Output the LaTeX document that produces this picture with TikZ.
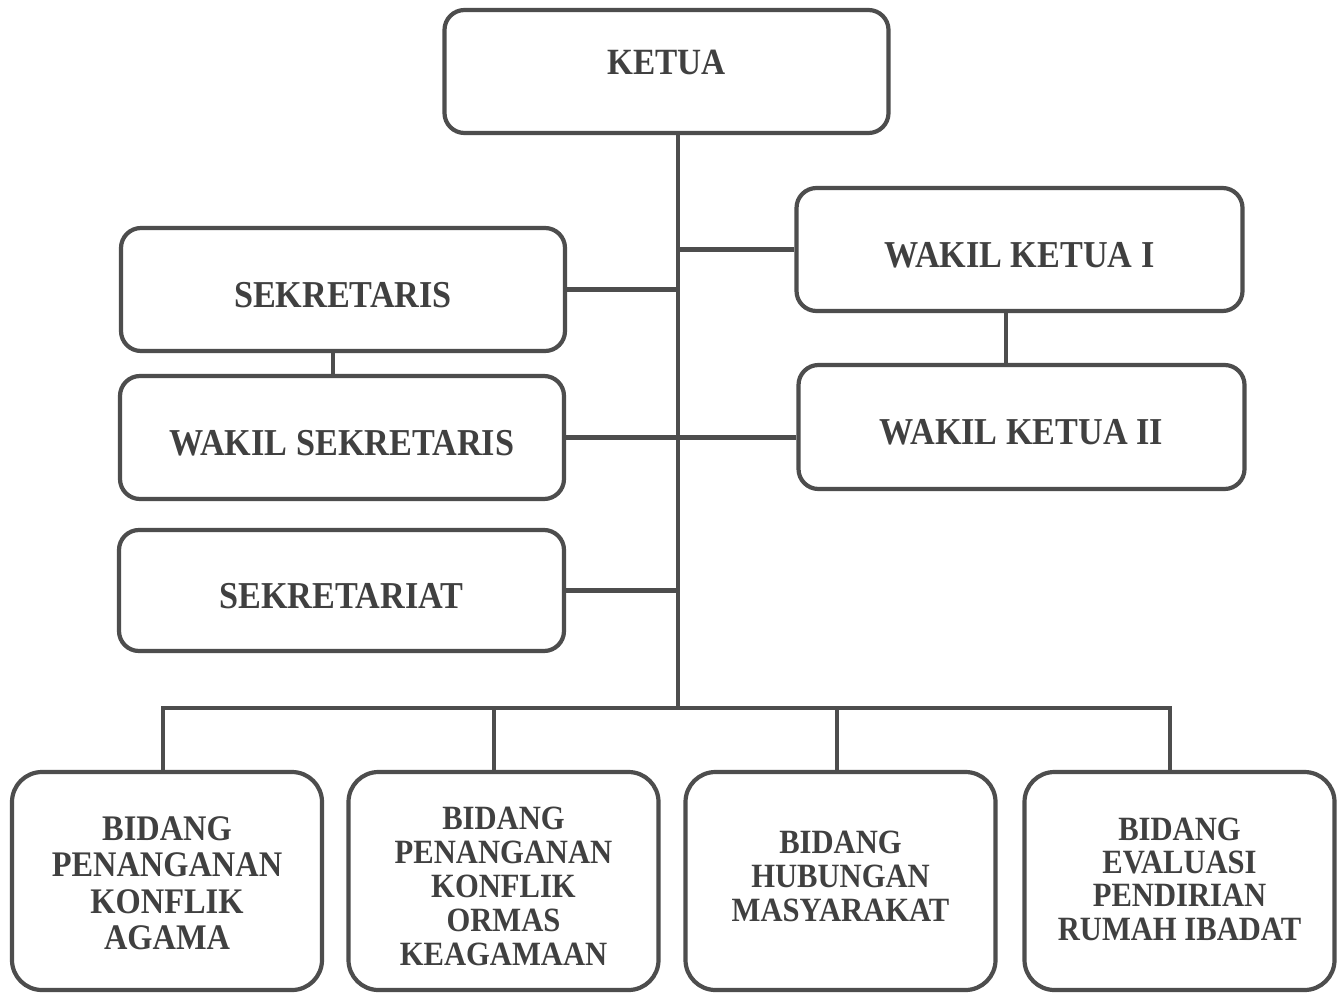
\documentclass[tikz,border=0pt]{standalone}
\usepackage{fontspec}
\setmainfont{Liberation Serif}
\newfontfamily\orgfont[FakeStretch=0.9]{Liberation Serif}
\definecolor{ln}{HTML}{4D4D4D}
\definecolor{tx}{HTML}{404040}
\begin{document}
\begin{tikzpicture}[x=0.5pt,y=-0.5pt,
  box/.style={draw=ln, line width=2.1pt, rounded corners=10pt, fill=white, text=tx,
    font=\orgfont\fontsize{19}{20}\selectfont\bfseries, align=center, inner sep=0pt},
  topbox/.style={box, minimum width=222pt, minimum height=61.5pt, text height=17.6pt, text depth=0pt},
  botbox/.style={box, rounded corners=15pt, minimum width=155pt, minimum height=109pt,
    font=\orgfont\fontsize{17}{17}\selectfont\bfseries},
  conn/.style={draw=ln, line width=2.1pt}]
\useasboundingbox (0,0) rectangle (1342,995);
\fill[white] (0,0) rectangle (1342,995);
% coordinates of the line system
\coordinate (tb) at (678,708);
\coordinate (d1) at (163,708);
\coordinate (d2) at (494,708);
\coordinate (d3) at (837,708);
\coordinate (d4) at (1170,708);
% nodes
\node[topbox, text height=3.25pt, font=\orgfont\fontsize{18.5}{20}\selectfont\bfseries] (ketua) at (666.5,71.5) {KETUA};
\node[topbox, minimum width=223pt] (wk1) at (1019.5,249.5) {WAKIL KETUA I};
\node[topbox, minimum width=223pt, minimum height=62pt] (wk2) at (1021.5,427) {WAKIL KETUA II};
\node[topbox] (sek) at (343,289.5) {SEKRETARIS};
\node[topbox] (wsek) at (342,437.5) {WAKIL SEKRETARIS};
\node[topbox, minimum width=222.5pt, minimum height=60.5pt] (sekt) at (341.5,590.5) {SEKRETARIAT};
\node[botbox, font=\orgfont\fontsize{18}{18.2}\selectfont\bfseries] (b1) at (167,881) {\rule{0pt}{14.2pt}BIDANG\\PENANGANAN\\KONFLIK\\AGAMA};
\node[botbox] (b2) at (503.5,881) {\rule{0pt}{16.3pt}BIDANG\\PENANGANAN\\KONFLIK\\ORMAS\\KEAGAMAAN};
\node[botbox] (b3) at (840.5,881) {BIDANG\\HUBUNGAN\\MASYARAKAT\rule[-5pt]{0pt}{5pt}};
\node[botbox, font=\orgfont\fontsize{17}{16.7}\selectfont\bfseries] (b4) at (1179.5,881) {BIDANG\\EVALUASI\\PENDIRIAN\\RUMAH IBADAT\rule[-2pt]{0pt}{2pt}};
% connectors
\draw[conn] (ketua.south -| tb) -- (tb);
\draw[conn] (wk1.west) -- (wk1.west -| tb);
\draw[conn] (sek.east) -- (sek.east -| tb);
\draw[conn] (wsek.east) -- (wsek.east -| wk2.west);
\draw[conn] (sekt.east) -- (sekt.east -| tb);
\draw[conn] ([xshift=-5pt]sek.south) -- ([xshift=-5pt]sek.south |- wsek.north);
\draw[conn] ([xshift=-6.75pt]wk1.south) -- ([xshift=-6.75pt]wk1.south |- wk2.north);
\draw[conn] ([xshift=-1pt]d1) -- ([xshift=1pt]d4);
\draw[conn] (d1) -- (d1 |- b1.north);
\draw[conn] (d2) -- (d2 |- b2.north);
\draw[conn] (d3) -- (d3 |- b3.north);
\draw[conn] (d4) -- (d4 |- b4.north);
\end{tikzpicture}
\end{document}
